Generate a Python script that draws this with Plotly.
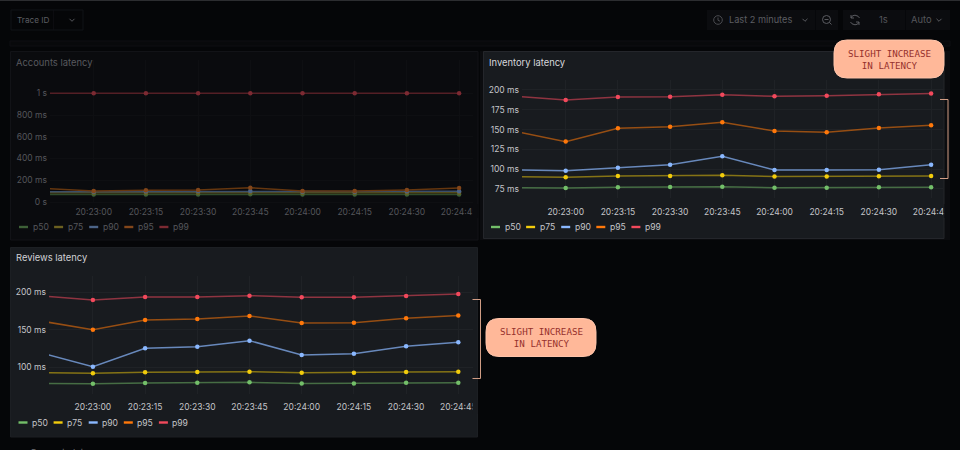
import plotly.graph_objects as go

W, H = 960, 450
TIMES = ["2024-01-01 20:22:45", "2024-01-01 20:23:00", "2024-01-01 20:23:15", "2024-01-01 20:23:30",
         "2024-01-01 20:23:45", "2024-01-01 20:24:00", "2024-01-01 20:24:15", "2024-01-01 20:24:30",
         "2024-01-01 20:24:45"]
SERIES = ["p50", "p75", "p90", "p95", "p99"]

acc_p50 = [70, 70, 70, 70, 71, 70, 70, 70, 70]
acc_p75 = [86, 85, 86, 86, 87, 86, 86, 86, 86]
acc_p90 = [95, 95, 98, 101, 101, 95, 95, 98, 98]
acc_p95 = [125, 101, 107, 110, 132, 101, 101, 110, 129]
acc_p99 = [1000, 1000, 1000, 1000, 1000, 1000, 1000, 1000, 1000]

inv_p50 = [76.7, 76.3, 77.1, 77.5, 77.9, 76.7, 76.7, 77.1, 77.1]
inv_p75 = [90.6, 89.7, 91.4, 91.4, 92.3, 90.6, 90.6, 91.0, 91.4]
inv_p90 = [99.0, 98.1, 101.9, 105.7, 116.2, 99.0, 99.0, 99.4, 105.7]
inv_p95 = [148.2, 134.8, 151.6, 153.7, 159.2, 148.2, 146.5, 152.0, 155.4]
inv_p99 = [192.4, 187.4, 191.2, 191.6, 194.1, 192.0, 192.8, 194.5, 195.4]

rev_p50 = [78.1, 77.7, 78.6, 79.0, 79.5, 78.1, 78.1, 79.0, 79.0]
rev_p75 = [92.4, 91.5, 92.9, 93.3, 93.8, 92.4, 92.4, 93.3, 93.8]
rev_p90 = [119.2, 100.4, 125.0, 127.2, 135.3, 116.1, 117.9, 127.7, 133.0]
rev_p95 = [161.6, 150.0, 162.9, 164.3, 168.3, 158.9, 159.4, 165.2, 168.8]
rev_p99 = [195.1, 189.7, 193.8, 193.8, 195.5, 193.3, 193.3, 195.1, 197.8]

TICK_TIMES = TIMES[1:]
TICK_TEXT = ["20:23:00", "20:23:15", "20:23:30", "20:23:45", "20:24:00", "20:24:15", "20:24:30", "20:24:45"]
ACC_TICKS, ACC_LABELS = [0, 200, 400, 600, 800, 1000], ["0 s", "200 ms", "400 ms", "600 ms", "800 ms", "1 s"]
INV_TICKS, INV_LABELS = [75, 100, 125, 150, 175, 200], ["75 ms", "100 ms", "125 ms", "150 ms", "175 ms", "200 ms"]
REV_TICKS, REV_LABELS = [100, 150, 200], ["100 ms", "150 ms", "200 ms"]

BRIGHT = ["#73BF69", "#F2CC0C", "#8AB8FF", "#FF780A", "#F2495C"]
BRIGHT_LINE = ["rgba(115,191,105,.5)", "rgba(242,204,12,.5)", "rgba(138,184,255,.7)", "rgba(255,120,10,.55)", "rgba(242,73,92,.55)"]
DIM = ["#3d6037", "#6b6020", "#4c6488", "#82461a", "#7c2a32"]
DIM_LINE = ["#2f4a2b", "#534a18", "#3a4e6a", "#66370f", "#541f25"]

PAGE = "#050608"
PANEL = "#181b1f"
PANEL_DIM = "#0a0b0e"
FONT = "Inter, Roboto, sans-serif"
MONO = "DejaVu Sans Mono, monospace"
TICK_SIZE = 8.5

px = lambda x: x / W
py = lambda y: 1 - y / H


def rect(x0, y0, x1, y1, fill, line=None, layer="below"):
    return dict(type="rect", xref="paper", yref="paper", x0=px(x0), x1=px(x1), y0=py(y0), y1=py(y1),
                fillcolor=fill, line=dict(color=line or fill, width=1 if line else 0), layer=layer)


def path(points, color, width=1.0, layer="above"):
    d = "M " + " L ".join(f"{px(a):.5f},{py(b):.5f}" for a, b in points)
    return dict(type="path", xref="paper", yref="paper", path=d, line=dict(color=color, width=width), layer=layer)


def rrect(x0, y0, x1, y1, r, fill, line, layer="above"):
    pts = lambda a, b: f"{px(a):.5f},{py(b):.5f}"
    d = (f"M {pts(x0 + r, y0)} L {pts(x1 - r, y0)} Q {pts(x1, y0)} {pts(x1, y0 + r)} "
         f"L {pts(x1, y1 - r)} Q {pts(x1, y1)} {pts(x1 - r, y1)} L {pts(x0 + r, y1)} "
         f"Q {pts(x0, y1)} {pts(x0, y1 - r)} L {pts(x0, y0 + r)} Q {pts(x0, y0)} {pts(x0 + r, y0)} Z")
    return dict(type="path", xref="paper", yref="paper", path=d, fillcolor=fill, line=dict(color=line, width=1), layer=layer)


def text(x, y, s, color, size=9.5, anchor="left", family=FONT):
    nudge = -2 if anchor == "left" else 0
    return dict(xref="paper", yref="paper", x=px(x + nudge), y=py(y), text=s, showarrow=False, xanchor=anchor, yanchor="middle",
                font=dict(family=family, size=size, color=color), align="center")


def circle(cx, cy, r, color, width=1.0):
    return dict(type="circle", xref="paper", yref="paper", x0=px(cx - r), x1=px(cx + r), y0=py(cy + r), y1=py(cy - r),
                line=dict(color=color, width=width), layer="above")


def chevron(cx, cy, color):
    return path([(cx - 2.5, cy - 1.2), (cx, cy + 1.3), (cx + 2.5, cy - 1.2)], color)


shapes = [
    rect(0, 0, 960, 1, "#2c2d30"),
    rect(10, 41, 950, 46, "#08090b", "#0e0f12"),
    rect(10.5, 51.5, 478, 240, PANEL_DIM, "#121317"),
    rect(480, 51, 950, 240, "#0b0c0f"),
    rect(483.5, 51.5, 944, 238.5, PANEL, "#24262b"),
    rect(10.5, 247.5, 477.5, 437, PANEL, "#1c1f23"),
    # header controls
    rect(11, 10, 83, 30, "#050608", "#111216"),
    rect(53, 10, 53.6, 30, "#111216"),
    rect(707, 10, 838, 30, "#0b0c0f"),
    rect(815, 10, 815.6, 30, "#050608"),
    rect(843, 10, 950, 30, "#0b0c0f"),
    rect(905, 10, 905.6, 30, "#050608"),
    # cut off tick labels at the panel's right edge
    rect(472.5, 204, 478.5, 218, PANEL_DIM, layer="above"),
    rect(943.5, 204, 944.5, 218, PANEL, layer="above"),
    rect(944.5, 204, 950, 218, "#0b0c0f", layer="above"),
    rect(472.5, 400, 477.5, 414, PANEL, layer="above"),
    # callout brackets
    path([(940, 99.5), (948, 99.5), (948, 178.5), (940, 178.5)], "#d39e86"),
    path([(472.5, 299.5), (480.5, 299.5), (480.5, 378.5), (472.5, 378.5)], "#d39e86"),
    # callouts
    rrect(834, 40, 944, 78, 13, "#FFB899", "#ffc5ab"),
    rrect(486, 318.5, 596, 356.5, 13, "#FFB899", "#ffc5ab"),
    # icons
    circle(718, 20, 4.3, "#4a4b50"),
    path([(718, 17.5), (718, 20.3), (720, 21.2)], "#4a4b50"),
    chevron(805, 20, "#5a5b60"),
    chevron(72, 20, "#55565b"),
    chevron(939, 20, "#5a5b60"),
    circle(826.5, 19.5, 4, "#5a5b60"),
    path([(824.5, 19.5), (828.5, 19.5)], "#5a5b60"),
    path([(829.5, 22.5), (831.5, 24.5)], "#5a5b60"),
    path([(851, 18), (852.5, 15.8), (855, 15.2), (858, 16.2), (859.5, 18)], "#5a5b60"),
    path([(851, 15), (851, 18), (854, 18)], "#5a5b60"),
    path([(859, 22), (857.5, 24.2), (855, 24.8), (852, 23.8), (850.5, 22)], "#5a5b60"),
    path([(859, 25), (859, 22), (856, 22)], "#5a5b60"),
]

annotations = [
    text(17, 20, "Trace ID", "#5c5d62", 8.2),
    text(729, 20, "Last 2 minutes", "#5c5d62", 9.2),
    text(883, 20, "1s", "#55565b", 9.4, "center"),
    text(911, 20, "Auto", "#55565b", 9.4),
    text(16, 62, "Accounts latency", "#58595e", 9.4),
    text(489, 62, "Inventory latency", "#d6d7db", 9.4),
    text(16, 257.5, "Reviews latency", "#d0d1d5", 9.4),
    text(30, 453, "Compute latency", "#6e6f74", 9.4),
    text(889, 59, "SLIGHT INCREASE<br>IN LATENCY", "#96302c", 9.2, "center", MONO),
    text(541, 337.5, "SLIGHT INCREASE<br>IN LATENCY", "#96302c", 9.2, "center", MONO),
]

PANELS = [
    dict(key="", left=50, right=473, top=60, bottom=203, ymin=-9.2, ymax=1306, first=93.7, standoff=2,
         series=[acc_p50, acc_p75, acc_p90, acc_p95, acc_p99], ticks=ACC_TICKS, labels=ACC_LABELS,
         marker=DIM, line=DIM_LINE, tick="#55565b", grid="#0e0f12", legend=(19, 227), ltext="#55565b"),
    dict(key="2", left=522, right=943, top=80, bottom=198, ymin=63.6, ymax=212.6, first=565.7, standoff=7,
         series=[inv_p50, inv_p75, inv_p90, inv_p95, inv_p99], ticks=INV_TICKS, labels=INV_LABELS,
         marker=BRIGHT, line=BRIGHT_LINE, tick="#c4c5c9", grid="#1f2226", legend=(491, 227), ltext="#c4c5c9"),
    dict(key="3", left=49, right=473, top=276, bottom=394, ymin=63.9, ymax=221.8, first=92.9, standoff=6,
         series=[rev_p50, rev_p75, rev_p90, rev_p95, rev_p99], ticks=REV_TICKS, labels=REV_LABELS,
         marker=BRIGHT, line=BRIGHT_LINE, tick="#c4c5c9", grid="#1f2226", legend=(18.5, 422.5), ltext="#c4c5c9"),
]


def stamp(sec):
    total = 20 * 3600 + 23 * 60 + sec
    h, rem = divmod(total, 3600)
    m, s = divmod(rem, 60)
    return f"2024-01-01 {int(h):02d}:{int(m):02d}:{s:06.3f}"


fig = go.Figure()
layout = {}
for p in PANELS:
    for i, name in enumerate(SERIES):
        fig.add_trace(go.Scatter(
            x=TIMES, y=p["series"][i], name=name, mode="lines+markers", showlegend=False,
            xaxis="x" + p["key"], yaxis="y" + p["key"],
            line=dict(color=p["line"][i], width=1.5, shape="linear"),
            marker=dict(color=p["marker"][i], size=4.5, line=dict(width=0)),
        ))
    sec_per_px = 15 / 52.2
    start_s = (p["left"] - p["first"]) * sec_per_px
    end_s = (p["right"] - p["first"]) * sec_per_px
    layout["xaxis" + p["key"]] = dict(
        domain=[px(p["left"]), px(p["right"])], anchor="y" + p["key"], type="date", range=[stamp(start_s), stamp(end_s)],
        tickmode="array", tickvals=TICK_TIMES, ticktext=TICK_TEXT, showgrid=True, gridcolor=p["grid"], gridwidth=1,
        zeroline=False, showline=False, ticks="", automargin=False,
        tickfont=dict(family=FONT, size=TICK_SIZE, color=p["tick"]), ticklabelstandoff=p["standoff"],
    )
    layout["yaxis" + p["key"]] = dict(
        domain=[py(p["bottom"]), py(p["top"])], anchor="x" + p["key"], range=[p["ymin"], p["ymax"]],
        tickmode="array", tickvals=p["ticks"], ticktext=p["labels"], showgrid=True, gridcolor=p["grid"], gridwidth=1,
        zeroline=False, showline=False, ticks="", automargin=False,
        tickfont=dict(family=FONT, size=TICK_SIZE, color=p["tick"]), ticklabelstandoff=2,
    )
    lx, ly = p["legend"]
    for i, name in enumerate(SERIES):
        x0 = lx + i * 35.1
        shapes.append(path([(x0, ly), (x0 + 9, ly)], p["marker"][i], 2.4))
        annotations.append(text(x0 + 13.5, ly, name, p["ltext"], 8.6))

fig.update_layout(
    template="none", width=W, height=H, margin=dict(l=0, r=0, t=0, b=0, autoexpand=False), paper_bgcolor=PAGE,
    plot_bgcolor="rgba(0,0,0,0)", showlegend=False, shapes=shapes, annotations=annotations, font=dict(family=FONT), **layout,
)
fig.write_html("out.html", post_script="document.body.style.margin='0';document.body.style.background='%s';" % PAGE,
               config=dict(displayModeBar=False))
